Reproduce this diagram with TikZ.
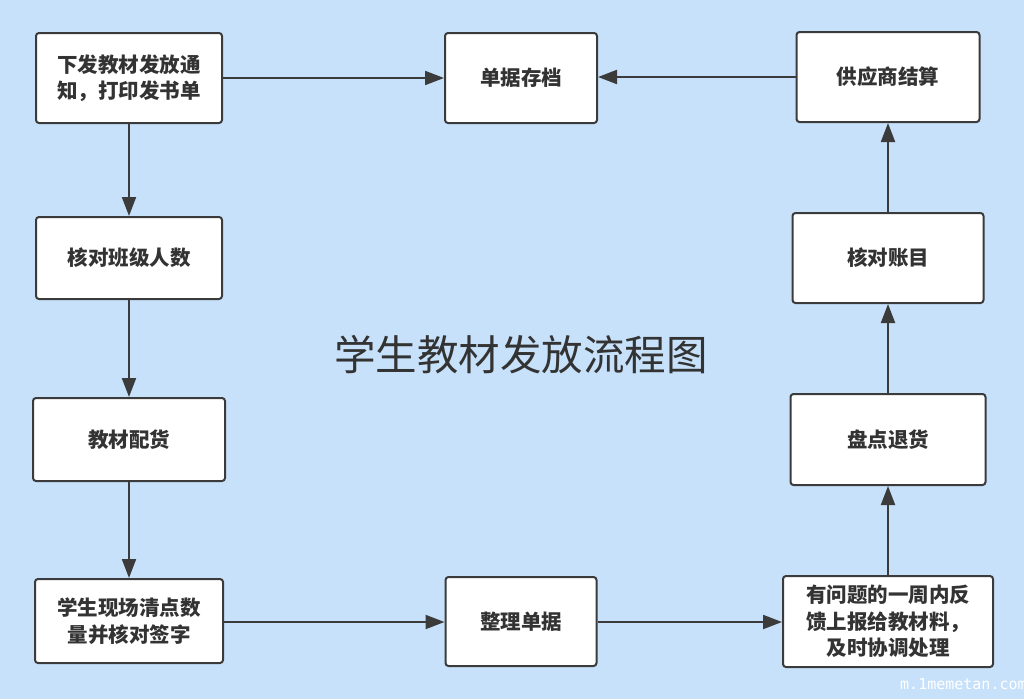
\documentclass[tikz,border=0pt]{standalone}
\usepackage{fontspec}
\usetikzlibrary{arrows.meta}
\newfontfamily\cjk{Noto Sans CJK SC}
\newfontfamily\wmfont{DejaVu Sans Mono}
\definecolor{bgblue}{HTML}{C7E1FA}
\definecolor{edge}{HTML}{3B3B3B}
\definecolor{txt}{HTML}{333333}
\tikzset{
  box/.style={draw=edge, line width=2pt, fill=white, rounded corners=3pt,
    align=center, inner sep=2pt, text=txt,
    font=\cjk\fontsize{20.5}{26.5}\selectfont\bfseries},
  link/.style={draw=edge, line width=2pt, -{Triangle[length=19pt,width=14pt]}}
}
\begin{document}
\begin{tikzpicture}[x=1pt,y=-1pt]
\fill[bgblue] (0,0) rectangle (1024,699);
\useasboundingbox (0,0) rectangle (1024,699);
\node[box, minimum width=186pt, minimum height=90pt] (b1) at (129,78) {下发教材发放通\\知，打印发书单};
\node[box, minimum width=152pt, minimum height=90pt] (b2) at (521,78) {单据存档};
\node[box, minimum width=183pt, minimum height=90pt] (b3) at (888,77) {供应商结算};
\node[box, minimum width=186pt, minimum height=82pt] (b4) at (129,258) {核对班级人数};
\node[box, minimum width=191pt, minimum height=90pt] (b5) at (888,258) {核对账目};
\node[box, minimum width=192pt, minimum height=83pt] (b6) at (129,439.5) {教材配货};
\node[box, minimum width=195pt, minimum height=91pt] (b7) at (888,439.5) {盘点退货};
\node[box, minimum width=188pt, minimum height=84pt] (b8) at (129,621) {学生现场清点数\\量并核对签字};
\node[box, minimum width=151pt, minimum height=89pt] (b9) at (521,621.5) {整理单据};
\node[box, minimum width=210pt, minimum height=91pt] (b10) at (888,621.5) {有问题的一周内反\\馈上报给教材料，\\及时协调处理};
\node[text=txt, font=\cjk\fontsize{41.5}{46}\selectfont] (title) at (521,355) {学生教材发放流程图};
\node[text=white, anchor=west, inner sep=0pt, font=\wmfont\fontsize{15}{17}\selectfont] (wm) at (900,684) {m.1memetan.com};
\draw[link] (b1.east |- 0,78) -- (b2.west |- 0,78);
\draw[link] (b3.west |- 0,77) -- (b2.east |- 0,77);
\draw[link] (b1.south) -- (b4.north);
\draw[link] (b4.south) -- (b6.north);
\draw[link] (b6.south) -- (b8.north);
\draw[link] (b8.east |- 0,622) -- (b9.west |- 0,622);
\draw[link] (b9.east |- 0,622) -- (b10.west |- 0,622);
\draw[link] (b10.north) -- (b7.south);
\draw[link] (b7.north) -- (b5.south);
\draw[link] (b5.north) -- (b3.south);
\end{tikzpicture}
\end{document}
